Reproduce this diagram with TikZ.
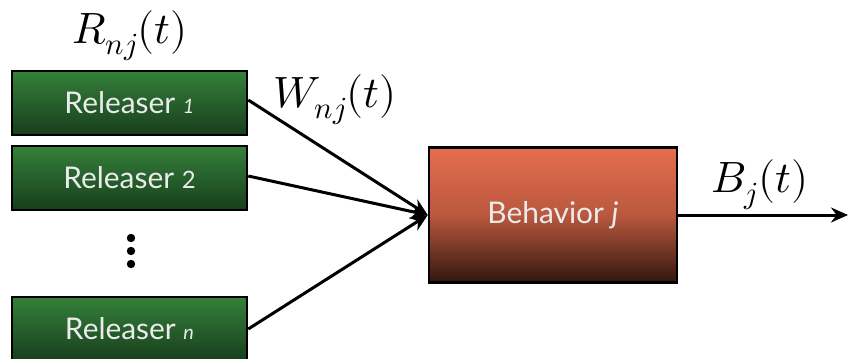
\documentclass[tikz,border=0pt]{standalone}
\usepackage{fontspec}
\setmainfont{Lato}
\usepackage{unicode-math}
\setmathfont{Latin Modern Math}
\usetikzlibrary{arrows.meta}
\definecolor{gtop}{RGB}{52,128,58}
\definecolor{gbot}{RGB}{24,62,28}
\definecolor{otop}{RGB}{230,110,78}
\definecolor{obot}{RGB}{50,22,14}
\newcommand{\smallit}[1]{{\fontsize{20}{22}\selectfont\itshape #1}}
\begin{document}
\begin{tikzpicture}[x=1bp,y=-1bp,
  relbox/.style={draw=black,line width=2.5bp,top color=gtop,bottom color=gbot,
    minimum width=235bp,minimum height=64bp,inner sep=0pt,text=white!92!black,font=\fontsize{30}{34}\selectfont},
  behbox/.style={draw=black,line width=2.5bp,top color=otop,bottom color=obot,middle color=otop!75!obot,
    minimum width=248bp,minimum height=135bp,inner sep=0pt,text=white!92!black,font=\fontsize{30}{34}\selectfont},
  conn/.style={line width=3bp,-{Stealth[length=17bp,width=15bp]}},
  lab/.style={font=\fontsize{44}{50}\selectfont,inner sep=0pt}]
\useasboundingbox (0,0) rectangle (848,358);
\fill[white] (0,0) rectangle (848,358);
\node[relbox] (r1) at (129.5,103) {Releaser \smallit{1}};
\node[relbox] (r2) at (129.5,178) {Releaser \fontsize{24}{26}\selectfont 2};
\node[relbox] (rn) at (129.5,329) {Releaser \smallit{n}};
\node[behbox] (b) at (553,215) {Behavior \textit{j}};
\coordinate (out) at (848,215);
\node[lab] (lr) at (130,36) {$R_{nj}(t)$};
\node[lab] (lw) at (335,100) {$W_{nj}(t)$};
\node[lab] (lb) at (760,185) {$B_j(t)$};
\foreach \yy in {238,251,264} \fill (131,\yy) circle (4.2bp);
\draw[conn] ([yshift=3bp]r1.east) -- (b.west);
\draw[conn] ([yshift=2bp]r2.east) -- (b.west);
\draw[conn] (rn.east) -- (b.west);
\draw[conn] (b.east) -- (out);
\end{tikzpicture}
\end{document}
